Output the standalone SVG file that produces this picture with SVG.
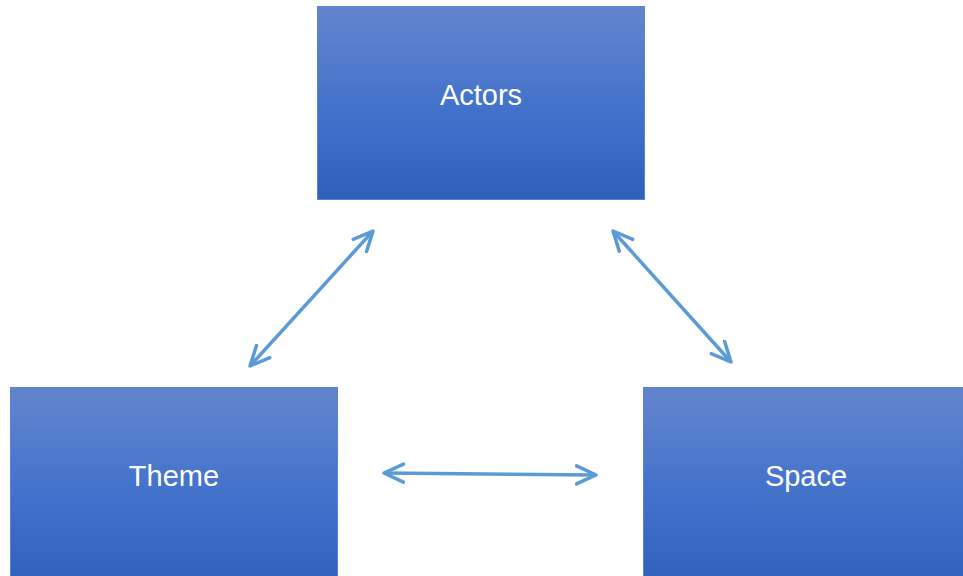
<svg xmlns="http://www.w3.org/2000/svg" width="963" height="576" viewBox="0 0 963 576">
<defs>
<linearGradient id="g" x1="0" y1="0" x2="0" y2="1">
<stop offset="0" stop-color="#6485CD"/>
<stop offset="0.5" stop-color="#4473CC"/>
<stop offset="1" stop-color="#2E61BA"/>
</linearGradient>
<marker id="ah" viewBox="0 0 24 24" refX="21" refY="12" markerWidth="24" markerHeight="24" markerUnits="userSpaceOnUse" orient="auto-start-reverse">
<path d="M1.5,3 L21,12 L1.5,21" fill="none" stroke="#5B9BD5" stroke-width="3.5" stroke-linecap="round" stroke-linejoin="round"/>
</marker>
<style>
.box{fill:url(#g);stroke:#5A82CF;stroke-width:1}
.lbl{font-family:"Liberation Sans",Arial,sans-serif;font-size:29px;fill:#fff;text-anchor:middle}
.con{stroke:#5B9BD5;stroke-width:3.5;fill:none;marker-start:url(#ah);marker-end:url(#ah)}
</style>
</defs>
<rect width="963" height="576" fill="#fff"/>
<g id="actors"><rect class="box" x="317.5" y="6.5" width="327" height="193"/><text class="lbl" x="481" y="105">Actors</text></g>
<g id="theme"><rect class="box" x="10.5" y="387.5" width="327" height="200"/><text class="lbl" x="174" y="486">Theme</text></g>
<g id="space"><rect class="box" x="643.5" y="387.5" width="330" height="200"/><text class="lbl" x="806" y="486">Space</text></g>
<g id="connectors">
<line class="con" x1="250" y1="366" x2="373" y2="231"/>
<line class="con" x1="613" y1="231" x2="731" y2="362"/>
<line class="con" x1="384" y1="473" x2="596" y2="475"/>
</g>
</svg>
